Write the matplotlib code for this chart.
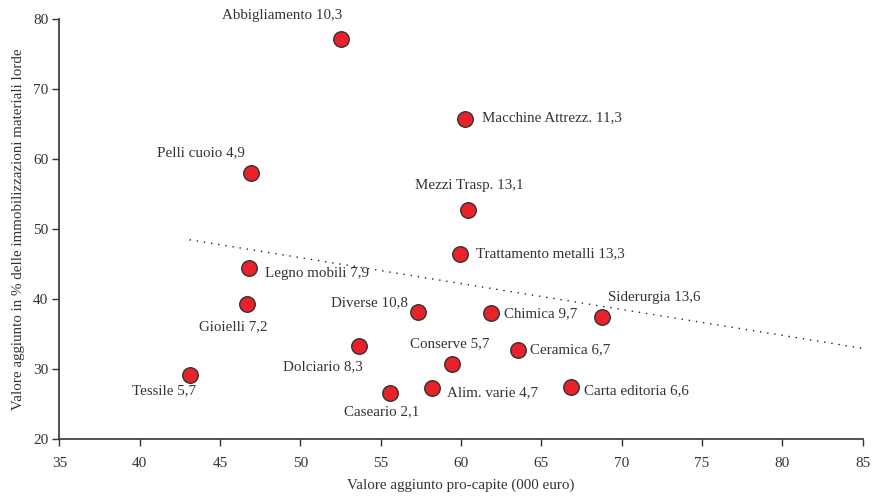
import matplotlib
matplotlib.use("Agg")
import matplotlib.pyplot as plt

plt.rcParams['font.family'] = ['Liberation Serif', 'DejaVu Serif']

labels = ["Abbigliamento 10,3", "Macchine Attrezz. 11,3", "Mezzi Trasp. 13,1",
          "Trattamento metalli 13,3", "Pelli cuoio 4,9", "Legno mobili 7,9",
          "Gioielli 7,2", "Tessile 5,7", "Dolciario 8,3", "Diverse 10,8",
          "Chimica 9,7", "Conserve 5,7", "Ceramica 6,7", "Caseario 2,1",
          "Alim. varie 4,7", "Carta editoria 6,6", "Siderurgia 13,6"]
x_vals = [52.5, 60.25, 60.45, 59.95, 46.9, 46.8, 46.7, 43.1, 53.65, 57.3,
          61.85, 59.45, 63.55, 55.6, 58.2, 66.85, 68.8]
y_vals = [77.2, 65.7, 52.8, 46.4, 58.0, 44.5, 39.3, 29.2, 33.3, 38.2,
          38.0, 30.8, 32.8, 26.6, 27.3, 27.4, 37.5]

trend_x = [43.1, 85.0]
trend_y = [48.5, 33.0]

x_ticks = [35, 40, 45, 50, 55, 60, 65, 70, 75, 80, 85]
y_ticks = [20, 30, 40, 50, 60, 70, 80]

# label offsets (pixels) and alignment
offsets = [(-58, 23, 'center'), (17, 2, 'left'), (1, 24, 'center'),
           (16, 1, 'left'), (-50, 21, 'center'), (16, -6, 'left'),
           (-14, -22, 'center'), (-26, -16, 'center'), (4, -20, 'right'),
           (-10, 9, 'right'), (13, 0, 'left'), (-3, 20, 'center'),
           (12, 0, 'left'), (-9, -19, 'center'), (15, -4, 'left'),
           (13, -3, 'left'), (6, 19, 'left')]

fig = plt.figure(figsize=(8.72, 4.97), dpi=100)
ax = fig.add_axes([0.0682, 0.1161, 0.9210, 0.8451])

txt = '#333333'
ax.plot(trend_x, trend_y, color='#222222', lw=1.0, linestyle=(0, (1, 4.2)), zorder=1)
ax.scatter(x_vals, y_vals, s=125, color='#E8212B', edgecolors='#333333',
           linewidths=1.0, zorder=3)

for lab, xv, yv, (dx, dy, ha) in zip(labels, x_vals, y_vals, offsets):
    ax.annotate(lab, (xv, yv), xytext=(dx, dy), textcoords='offset pixels',
                ha=ha, va='center', fontsize=10.8, color=txt)

ax.set_xlim(35, 85)
ax.set_ylim(20, 80)
ax.set_xticks(x_ticks)
ax.set_yticks(y_ticks)
for s in ['top', 'right']:
    ax.spines[s].set_visible(False)
for s in ['left', 'bottom']:
    ax.spines[s].set_color('#333333')
    ax.spines[s].set_linewidth(1.2)
ax.tick_params(axis='both', direction='out', length=5, width=1.0, colors='#333333',
               labelsize=11, labelcolor=txt)
ax.tick_params(axis='x', pad=8)
ax.tick_params(axis='y', pad=3)
ax.set_xlabel("Valore aggiunto pro-capite (000 euro)", fontsize=10.8, color=txt, labelpad=6)
ax.set_ylabel("Valore aggiunto in % delle immobilizzazioni materiali lorde",
              fontsize=10.8, color=txt, labelpad=6)

fig.savefig("out.png", dpi=100)
